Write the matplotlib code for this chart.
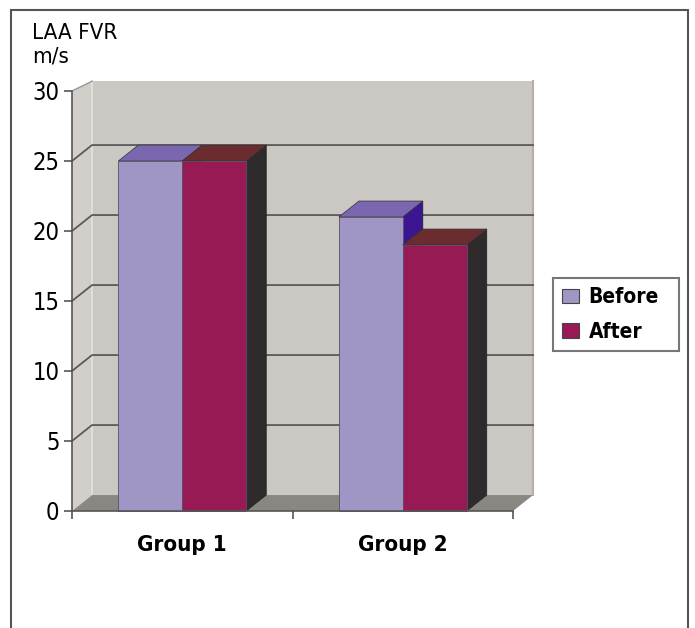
import matplotlib.pyplot as plt
from matplotlib.patches import Polygon, Patch, Rectangle

groups = ["Group 1", "Group 2"]
series = ["Before", "After"]
before = [25.0, 21.0]
after = [25.0, 19.0]
yticks = [0, 5, 10, 15, 20, 25, 30]

front_colors = {"Before": "#a096c6", "After": "#981a54"}
top_colors = {"Before": "#7b66b0", "After": "#6a2c2e"}
side_colors = {"Before": "#3c1690", "After": "#2f2a2b"}

plt.rcParams["font.family"] = ["DejaVu Sans"]
plt.rcParams["font.stretch"] = "condensed"

# depth of the pseudo-3d box, in data units (x: categories, y: values)
DX, DY = 0.091, 1.14
bar_w = 0.29

fig = plt.figure(figsize=(6.95, 6.28), dpi=100)
ax = fig.add_axes([72 / 695, 1 - 511 / 628, 441 / 695, 420 / 628])
ax.set_xlim(0, 2)
ax.set_ylim(0, 30)


def poly(pts, color, z, ec="none", lw=0):
    ax.add_patch(Polygon(pts, closed=True, facecolor=color, edgecolor=ec,
                         linewidth=lw, zorder=z, clip_on=False))


xmax = len(groups)
ytop = yticks[-1]
wall_top = ytop + 0.7

# back wall, side wall and floor
poly([(DX, DY), (xmax + DX, DY), (xmax + DX, wall_top), (DX, wall_top)], "#cbc8c4", 1)
poly([(0, 0), (DX, DY), (DX, wall_top), (0, ytop)], "#d2cfcb", 1)
poly([(0, 0), (xmax, 0), (xmax + DX, DY), (DX, DY)], "#8a8682", 2)
ax.plot([DX, DX], [DY, wall_top], color="#e6e3df", lw=1.2, zorder=1.5, clip_on=False)
ax.plot([xmax + DX, xmax + DX], [DY, wall_top], color="#b3b0ac", lw=1.5, zorder=1.5, clip_on=False)

# gridlines on the back wall with their diagonals on the side wall
for v in yticks[1:-1]:
    ax.plot([0, DX, xmax + DX], [v, v + DY, v + DY], color="#5b5957", lw=1.3,
            zorder=1.6, clip_on=False)
ax.plot([0, DX], [ytop, wall_top], color="#9a9794", lw=1.0, zorder=1.6, clip_on=False)


def bar3d(x0, h, name):
    x1 = x0 + bar_w
    poly([(x1, 0), (x1 + DX, DY), (x1 + DX, h + DY), (x1, h)], side_colors[name], 3,
         ec="#222222", lw=0.5)
    poly([(x0, h), (x1, h), (x1 + DX, h + DY), (x0 + DX, h + DY)], top_colors[name], 3,
         ec="#333333", lw=0.5)
    poly([(x0, 0), (x1, 0), (x1, h), (x0, h)], front_colors[name], 3,
         ec="#5a4f66", lw=0.6)


for i in range(len(groups)):
    center = i + 0.5
    bar3d(center - bar_w, before[i], "Before")
    bar3d(center, after[i], "After")

# axes lines and ticks
for s in ["top", "right"]:
    ax.spines[s].set_visible(False)
for s in ["left", "bottom"]:
    ax.spines[s].set_color("#555555")
    ax.spines[s].set_linewidth(1.2)
    ax.spines[s].set_zorder(5)
ax.set_yticks(yticks)
ax.set_yticklabels([str(t) for t in yticks], fontsize=17)
ax.tick_params(axis="y", direction="out", length=6, width=1.2, color="#555555", pad=3)
ax.set_xticks(range(xmax + 1))
ax.set_xticklabels([])
ax.set_xticks([i + 0.5 for i in range(len(groups))], minor=True)
ax.set_xticklabels(groups, minor=True, fontsize=16, fontweight="bold")
ax.tick_params(axis="x", which="major", direction="out", length=6, width=1.2, color="#555555")
ax.tick_params(axis="x", which="minor", length=0, pad=17)
ax.patch.set_alpha(0)

fig.text(32 / 695, 1 - 23 / 628, "LAA FVR\nm/s", fontsize=16, va="top", ha="left",
         linespacing=1.25)

handles = [Patch(facecolor=front_colors[s], edgecolor="#444444", linewidth=0.8) for s in series]
leg = fig.legend(handles, series, loc="upper left", mode="expand",
                 bbox_to_anchor=(553 / 695, 1 - 350 / 628, 126 / 695, 72 / 628),
                 prop={"size": 15, "weight": "bold", "stretch": "condensed"},
                 fancybox=False, edgecolor="#777777", framealpha=1,
                 handlelength=0.8, handleheight=0.7, handletextpad=0.45,
                 labelspacing=0.69, borderpad=0.45, borderaxespad=0)
leg.get_frame().set_linewidth(1.5)

fig.patches.append(Rectangle((11 / 695, -0.01), 677 / 695, 1.01 - 10 / 628,
                             transform=fig.transFigure, fill=False,
                             edgecolor="#555555", linewidth=1.5))

fig.savefig("out.png", dpi=100)
